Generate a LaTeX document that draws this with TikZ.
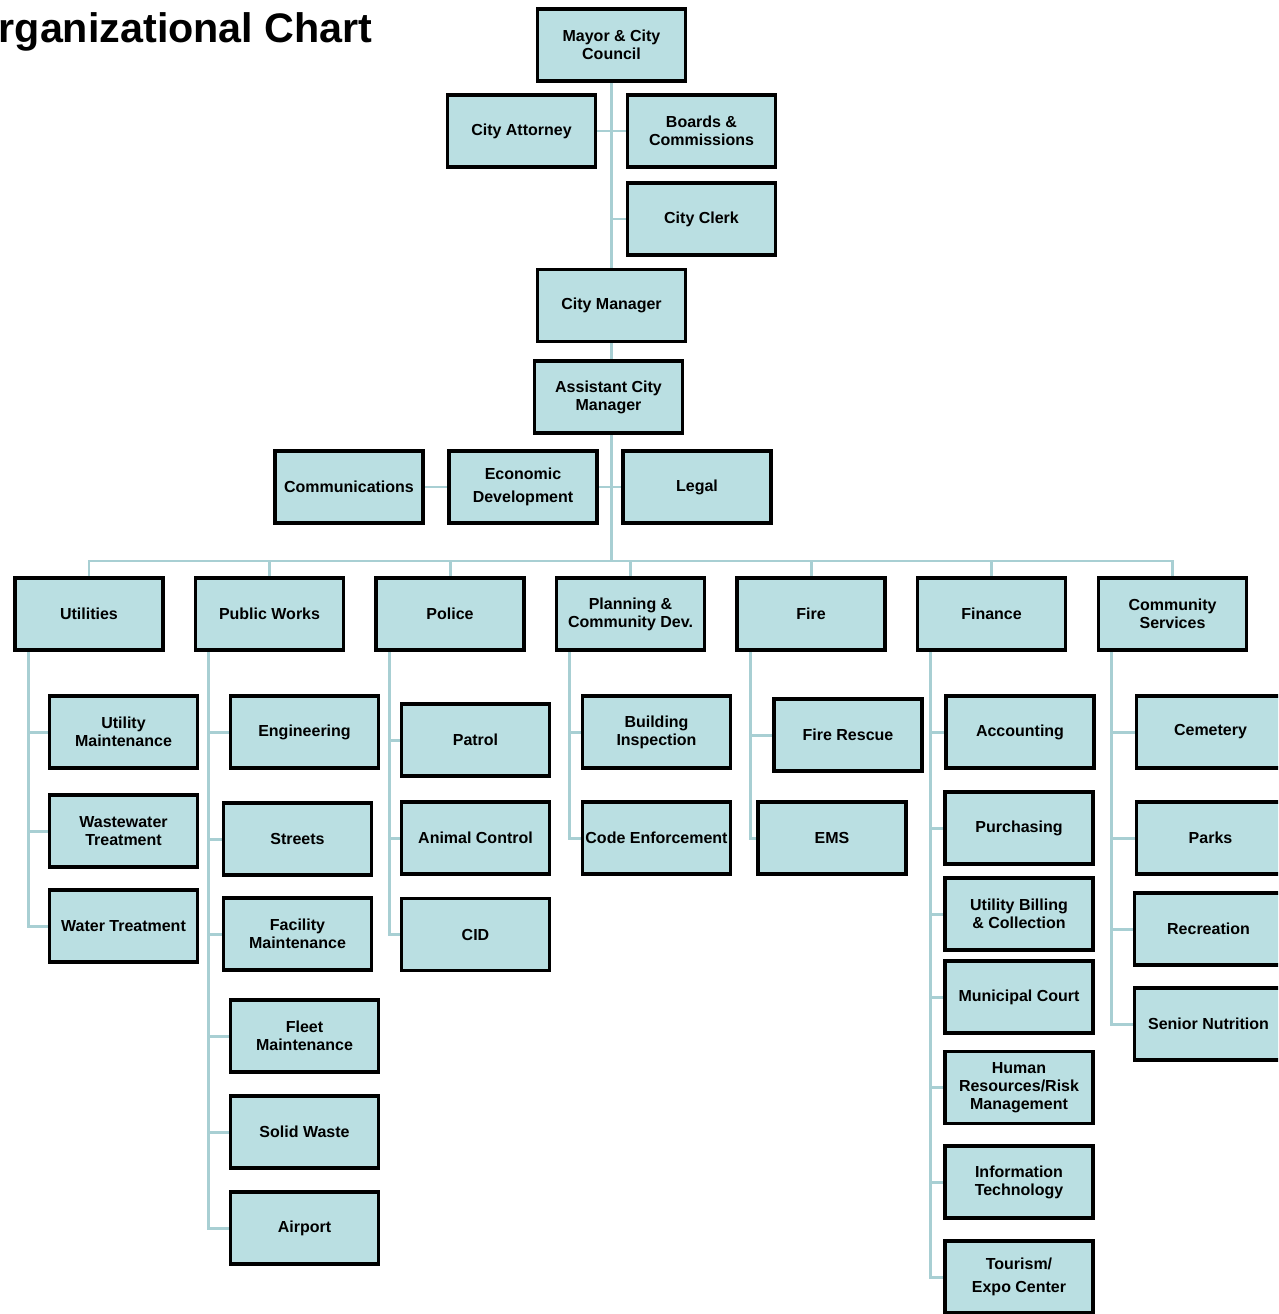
\documentclass[tikz,border=0pt]{standalone}
\usepackage{fontspec}
\setmainfont{Liberation Sans}
\usetikzlibrary{backgrounds}
\definecolor{orgFond}{RGB}{186,223,226}
\definecolor{orgTrait}{RGB}{168,207,211}

\begin{document}
\begin{tikzpicture}[
  x=0.02cm, y=-0.02cm,
  box/.style={draw=black, line width=1.8pt, fill=orgFond, minimum width=2.96cm,
              minimum height=1.44cm, inner sep=1pt, align=center,
              font=\fontsize{9.1}{10.3}\selectfont\bfseries},
  ln/.style={orgTrait, line width=1.7pt},
  titre/.style={anchor=base east, inner sep=0pt, font=\fontsize{23.5}{28}\selectfont\bfseries}
]
\clip (0,0) rectangle (1278,1314);

\node[titre] (title) at (373,43) {Organizational Chart};

% direction
\node[box] (mayor)  at (611.5,45)  {Mayor \& City\\Council};
\node[box] (atty)   at (521.5,131) {City Attorney};
\node[box] (boards) at (701.5,131) {Boards \&\\Commissions};
\node[box] (clerk)  at (701.5,219) {City Clerk};
\node[box] (cmgr)   at (611.5,305.5) {City Manager};
\node[box] (acm)    at (608.5,397) {Assistant City\\Manager};
\node[box] (comm)   at (349,487)   {Communications};
\node[box] (econ)   at (523,487)   {Economic\\[2.5pt]Development};
\node[box] (legal)  at (697,487)   {Legal};
\coordinate (bus) at (611,561);

% departements
\node[box] (util)   at (89,614)     {Utilities};
\node[box] (pw)     at (269.5,614)  {Public Works};
\node[box] (police) at (450,614)    {Police};
\node[box] (plan)   at (630.5,614)  {Planning \&\\Community Dev.};
\node[box] (fire)   at (811,614)    {Fire};
\node[box] (fin)    at (991.5,614)  {Finance};
\node[box] (cs)     at (1172.5,614) {Community\\Services};

% services
\node[box] (utmaint) at (123.5,732) {Utility\\Maintenance};
\node[box] (waste)   at (123.5,831) {Wastewater\\Treatment};
\node[box] (water)   at (123.5,926) {Water Treatment};

\node[box] (eng)     at (304.5,732)  {Engineering};
\node[box] (streets) at (297.5,839)  {Streets};
\node[box] (facil)   at (297.5,934)  {Facility\\Maintenance};
\node[box] (fleet)   at (304.5,1036) {Fleet\\Maintenance};
\node[box] (solid)   at (304.5,1132) {Solid Waste};
\node[box] (airport) at (304.5,1228) {Airport};

\node[box] (patrol)  at (475.5,740)   {Patrol};
\node[box] (animal)  at (475.5,838)   {Animal Control};
\node[box] (cid)     at (475.5,934.5) {CID};

\node[box] (build)   at (656.5,732) {Building\\Inspection};
\node[box] (code)    at (656.5,838) {Code Enforcement};

\node[box] (rescue)  at (848,735) {Fire Rescue};
\node[box] (ems)     at (832,838) {EMS};

\node[box] (acct)    at (1020,732)  {Accounting};
\node[box] (purch)   at (1019,828)  {Purchasing};
\node[box] (billing) at (1019,914)  {Utility Billing\\\& Collection};
\node[box] (court)   at (1019,997)  {Municipal Court};
\node[box] (hr)      at (1019,1087.5) {Human\\Resources/Risk\\Management};
\node[box] (it)      at (1019,1182) {Information\\Technology};
\node[box] (tour)    at (1019,1277) {Tourism/\\[2.5pt]Expo Center};

\node[box] (cemet)   at (1210.5,732) {Cemetery};
\node[box] (parks)   at (1210.5,838) {Parks};
\node[box] (recr)    at (1208.5,929) {Recreation};
\node[box] (senior)  at (1208.5,1024) {Senior Nutrition};

\begin{scope}[on background layer]
\draw[ln] (mayor.south) -- (cmgr.north);
\draw[ln] (atty.east) -- (boards.west);
\draw[ln] (clerk.west) -- (clerk.west -| mayor.south);
\draw[ln] (cmgr.south) -- (cmgr.south |- acm.north);
\draw[ln] (bus |- acm.south) -- (bus);
\draw[ln] (comm.east) -- (econ.west);
\draw[ln] (econ.east) -- (legal.west);
\foreach \d in {util,pw,police,plan,fire,fin,cs}
  \draw[ln] (bus) -| (\d.north);

\foreach \c in {utmaint,waste,water}
  \draw[ln] ([xshift=0.3cm]util.south west) |- (\c.west);
\foreach \c in {eng,streets,facil,fleet,solid,airport}
  \draw[ln] ([xshift=0.3cm]pw.south west) |- (\c.west);
\foreach \c in {patrol,animal,cid}
  \draw[ln] ([xshift=0.3cm]police.south west) |- (\c.west);
\foreach \c in {build,code}
  \draw[ln] ([xshift=0.3cm]plan.south west) |- (\c.west);
\foreach \c in {rescue,ems}
  \draw[ln] ([xshift=0.3cm]fire.south west) |- (\c.west);
\foreach \c in {acct,purch,billing,court,hr,it,tour}
  \draw[ln] ([xshift=0.3cm]fin.south west) |- (\c.west);
\foreach \c in {cemet,parks,recr,senior}
  \draw[ln] ([xshift=0.3cm]cs.south west) |- (\c.west);
\end{scope}

\end{tikzpicture}
\end{document}
